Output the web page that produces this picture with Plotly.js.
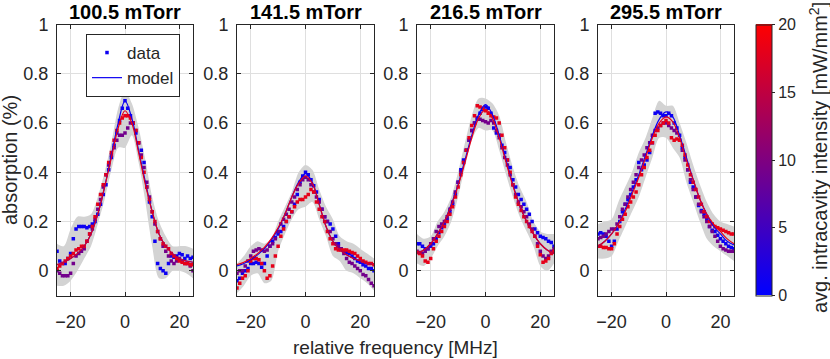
<!DOCTYPE html>
<html><head><meta charset="utf-8">
<script src="https://cdn.plot.ly/plotly-3.0.1.min.js"></script>
<style>html,body{margin:0;padding:0;background:#fff}#chart{width:830px;height:359px}</style>
</head><body><div id="chart"></div>
<script>
// ---------- data ----------
const pressures = ['100.5 mTorr', '141.5 mTorr', '216.5 mTorr', '295.5 mTorr'];
const freq = [-25,-24,-23,-22,-21,-20,-19,-18,-17,-16,-15,-14,-13,-12,-11,-10,-9,-8,-7,-6,-5,-4,-3,-2,-1,
  0,1,2,3,4,5,6,7,8,9,10,11,12,13,14,15,16,17,18,19,20,21,22,23,24,25];
const modelFreq = [-25,-22.5,-20,-17.5,-15,-12.5,-10,-7.5,-5,-2.5,0,2.5,5,7.5,10,12.5,15,17.5,20,22.5,25];
const dataIntensity = [1, 9, 18];     // mW/mm^2 : blue, purple, red series
const modelIntensity = [1, 18];
const yTicks = [0, 0.2, 0.4, 0.6, 0.8, 1];
const xTicks = [-20, 0, 20];

// panel 1 : 100.5 mTorr
const p1Blue = [0.08,0.04,0.03,0.03,0.05, 0.07,0.13,0.17,0.18,0.18, 0.18,0.175,0.18,0.19,0.2, 0.23,0.27,0.31,0.35,0.41, 0.46,0.51,0.56,0.61,0.66,
  0.69,
  0.66,0.63,0.6,0.56,0.52, 0.49,0.44,0.34,0.28,0.22, 0.12,0.03,0.01,0.0,-0.01, 0.03,0.06,0.055,0.06,0.07, 0.065,0.05,0.06,0.05,0.055];
const p1Purple = [0.0,-0.01,-0.02,-0.02,-0.02, -0.01,0.03,0.06,0.07,0.08, 0.09,0.12,0.15,0.17,0.21, 0.25,0.29,0.34,0.39,0.43, 0.47,0.5,0.53,0.55,0.55,
  0.56,
  0.58,0.6,0.6,0.57,0.52, 0.47,0.42,0.36,0.3,0.24, 0.19,0.16,0.13,0.1,0.08, 0.06,0.04,0.03,0.04,0.05, 0.04,0.03,0.03,0.02,0.0];
const p1Red = [0.01,0.02,0.03,0.04,0.05, 0.06,0.07,0.085,0.09,0.1, 0.1,0.12,0.15,0.18,0.22, 0.27,0.31,0.35,0.39,0.44, 0.48,0.53,0.57,0.6,0.62,
  0.63,
  0.63,0.62,0.6,0.57,0.52, 0.46,0.4,0.34,0.29,0.24, 0.2,0.16,0.13,0.11,0.1, 0.09,0.07,0.06,0.05,0.04, 0.035,0.03,0.03,0.025,0.025];
const p1ModelBlue = [0.025,0.035,0.05,0.07,0.1,0.15,0.23,0.34,0.47,0.6,0.69,0.62,0.49,0.36,0.24,0.15,0.1,0.07,0.05,0.04,0.035];
const p1ModelRed  = [0.025,0.035,0.05,0.07,0.1,0.15,0.23,0.34,0.46,0.58,0.65,0.6,0.48,0.35,0.24,0.15,0.1,0.07,0.05,0.04,0.035];
const p1BandLow  = [-0.06,-0.06,-0.04,0.0,0.05,0.1,0.19,0.29,0.41,0.5,0.5,0.55,0.44,0.28,0.1,-0.03,-0.03,0.0,0.0,-0.01,-0.03];
const p1BandHigh = [0.11,0.1,0.17,0.22,0.22,0.23,0.3,0.4,0.52,0.66,0.73,0.68,0.58,0.45,0.3,0.2,0.14,0.1,0.1,0.1,0.09];

// panel 2 : 141.5 mTorr
const p2Blue = [-0.04,-0.03,-0.01,0.0,0.01, 0.03,0.03,0.035,0.03,0.015, 0.03,0.06,0.1,0.12,0.135, 0.15,0.16,0.18,0.2,0.22, 0.24,0.27,0.31,0.36,0.385,
  0.4,
  0.39,0.37,0.345,0.32,0.29, 0.25,0.22,0.2,0.19,0.17, 0.14,0.11,0.09,0.08,0.075, 0.07,0.06,0.05,0.04,0.035, 0.025,0.02,0.01,0.01,0.0];
const p2Purple = [-0.01,0.0,0.0,0.02,0.04, 0.06,0.08,0.085,0.09,0.085, 0.08,0.085,0.1,0.11,0.13, 0.16,0.19,0.21,0.23,0.25, 0.28,0.3,0.33,0.35,0.37,
  0.38,
  0.37,0.35,0.32,0.3,0.28, 0.25,0.22,0.2,0.16,0.13, 0.11,0.1,0.09,0.07,0.05, 0.035,0.03,0.02,0.01,0.0, -0.015,-0.02,-0.035,-0.05,-0.06];
const p2Red = [-0.07,-0.05,-0.03,-0.02,0.0, 0.04,0.05,0.05,0.045,0.03, 0.0,-0.03,-0.02,0.02,0.06, 0.1,0.14,0.17,0.2,0.22, 0.24,0.26,0.28,0.29,0.29,
  0.3,
  0.31,0.33,0.32,0.28,0.25, 0.22,0.2,0.16,0.13,0.11, 0.09,0.085,0.085,0.085,0.085, 0.08,0.075,0.07,0.06,0.05, 0.04,0.035,0.03,0.03,0.025];
const p2ModelBlue = [0.02,0.03,0.045,0.065,0.09,0.125,0.17,0.23,0.3,0.36,0.395,0.36,0.27,0.18,0.12,0.085,0.065,0.05,0.04,0.03,0.025];
const p2ModelRed  = [0.025,0.035,0.05,0.07,0.095,0.13,0.175,0.23,0.3,0.355,0.385,0.355,0.27,0.18,0.12,0.085,0.065,0.05,0.04,0.03,0.025];
const p2BandLow  = [-0.09,-0.06,-0.02,-0.01,-0.05,-0.04,0.08,0.15,0.21,0.25,0.26,0.28,0.21,0.14,0.06,0.04,0.0,-0.01,-0.03,-0.05,-0.08];
const p2BandHigh = [0.03,0.06,0.1,0.12,0.11,0.13,0.2,0.26,0.32,0.4,0.43,0.41,0.33,0.26,0.21,0.14,0.12,0.11,0.09,0.07,0.05];

// panel 3 : 216.5 mTorr
const p3Blue = [0.11,0.11,0.1,0.09,0.09, 0.1,0.11,0.13,0.155,0.175, 0.19,0.21,0.24,0.27,0.31, 0.36,0.41,0.45,0.49,0.53, 0.57,0.6,0.62,0.64,0.655,
  0.665,
  0.66,0.64,0.58,0.56,0.55, 0.51,0.48,0.45,0.42,0.37, 0.34,0.31,0.29,0.27,0.25, 0.23,0.2,0.17,0.155,0.14, 0.135,0.13,0.12,0.115,0.1];
const p3Purple = [0.08,0.075,0.07,0.08,0.09, 0.11,0.13,0.16,0.18,0.19, 0.2,0.22,0.25,0.28,0.32, 0.36,0.4,0.44,0.49,0.53, 0.57,0.6,0.615,0.615,0.61,
  0.605,
  0.6,0.61,0.6,0.57,0.54, 0.5,0.46,0.43,0.39,0.35, 0.31,0.28,0.26,0.24,0.22, 0.19,0.17,0.14,0.11,0.08, 0.06,0.05,0.06,0.08,0.09];
const p3Red = [0.075,0.07,0.06,0.04,0.035, 0.05,0.09,0.12,0.14,0.16, 0.18,0.2,0.23,0.26,0.3, 0.34,0.39,0.44,0.49,0.54, 0.59,0.63,0.67,0.665,0.66,
  0.65,
  0.64,0.63,0.625,0.62,0.6, 0.55,0.5,0.45,0.4,0.35, 0.3,0.27,0.245,0.22,0.2, 0.18,0.16,0.14,0.1,0.065, 0.035,0.04,0.05,0.07,0.08];
const p3ModelBlue = [0.07,0.085,0.11,0.15,0.2,0.27,0.35,0.45,0.55,0.635,0.675,0.635,0.55,0.45,0.35,0.265,0.2,0.15,0.11,0.085,0.07];
const p3ModelRed  = [0.07,0.085,0.11,0.15,0.2,0.265,0.345,0.44,0.54,0.62,0.655,0.62,0.54,0.44,0.345,0.265,0.2,0.15,0.11,0.085,0.07];
const p3BandLow  = [0.03,0.02,0.05,0.1,0.14,0.2,0.3,0.42,0.53,0.58,0.57,0.57,0.49,0.39,0.3,0.22,0.16,0.1,0.02,0.0,0.03];
const p3BandHigh = [0.15,0.13,0.14,0.2,0.24,0.3,0.4,0.52,0.63,0.7,0.7,0.68,0.63,0.52,0.42,0.34,0.28,0.2,0.16,0.15,0.15];

// panel 4 : 295.5 mTorr
const p4Blue = [0.15,0.155,0.15,0.14,0.12, 0.1,0.12,0.17,0.2,0.24, 0.27,0.29,0.31,0.34,0.37, 0.44,0.41,0.43,0.45,0.48, 0.52,0.64,0.645,0.64,0.63,
  0.63,
  0.64,0.63,0.6,0.58,0.55, 0.5,0.46,0.41,0.36,0.34, 0.3,0.265,0.245,0.23,0.21, 0.18,0.165,0.16,0.145,0.13, 0.12,0.11,0.1,0.095,0.09];
const p4Purple = [0.13,0.135,0.14,0.15,0.16, 0.17,0.17,0.19,0.22,0.25, 0.27,0.3,0.33,0.36,0.39, 0.42,0.45,0.47,0.5,0.52, 0.55,0.57,0.58,0.59,0.6,
  0.6,
  0.59,0.58,0.57,0.56,0.53, 0.49,0.45,0.41,0.37,0.33, 0.3,0.27,0.24,0.22,0.2, 0.18,0.16,0.14,0.12,0.1, 0.09,0.085,0.08,0.08,0.08];
const p4Red = [0.1,0.1,0.095,0.095,0.09, 0.09,0.11,0.15,0.18,0.21, 0.23,0.26,0.28,0.3,0.32, 0.35,0.39,0.42,0.46,0.49, 0.52,0.55,0.57,0.59,0.6,
  0.61,
  0.6,0.54,0.53,0.535,0.53, 0.51,0.47,0.43,0.39,0.36, 0.33,0.3,0.27,0.24,0.22, 0.2,0.19,0.18,0.175,0.17, 0.165,0.16,0.155,0.15,0.15];
const p4ModelBlue = [0.1,0.12,0.15,0.19,0.25,0.32,0.39,0.47,0.55,0.615,0.645,0.625,0.55,0.46,0.37,0.29,0.23,0.18,0.15,0.12,0.105];
const p4ModelRed  = [0.1,0.12,0.15,0.19,0.24,0.31,0.38,0.46,0.54,0.6,0.625,0.605,0.54,0.45,0.37,0.29,0.23,0.19,0.16,0.13,0.11];
const p4BandLow  = [0.05,0.05,0.06,0.12,0.18,0.24,0.3,0.38,0.46,0.54,0.54,0.5,0.46,0.36,0.28,0.2,0.13,0.1,0.08,0.06,0.04];
const p4BandHigh = [0.19,0.2,0.21,0.28,0.34,0.4,0.48,0.54,0.62,0.69,0.67,0.67,0.6,0.52,0.43,0.35,0.28,0.23,0.2,0.19,0.18];

const panels = [
  {data: [p1Blue, p1Purple, p1Red], model: [p1ModelBlue, p1ModelRed], lo: p1BandLow, hi: p1BandHigh},
  {data: [p2Blue, p2Purple, p2Red], model: [p2ModelBlue, p2ModelRed], lo: p2BandLow, hi: p2BandHigh},
  {data: [p3Blue, p3Purple, p3Red], model: [p3ModelBlue, p3ModelRed], lo: p3BandLow, hi: p3BandHigh},
  {data: [p4Blue, p4Purple, p4Red], model: [p4ModelBlue, p4ModelRed], lo: p4BandLow, hi: p4BandHigh}
];

// ---------- style ----------
const W = 830, H = 359;
const FONT = 'Liberation Sans, Arial, Helvetica, sans-serif';
const INK = '#262626';
const cmin = 0, cmax = 20;
const colorscale = [[0, 'rgb(0,0,255)'], [1, 'rgb(255,0,0)']];
function intensityColor(v) {
  const t = (v - cmin) / (cmax - cmin);
  return 'rgb(' + Math.round(255 * t) + ',0,' + Math.round(255 * (1 - t)) + ')';
}
const xPix = [[57, 193], [237, 374], [417, 554], [598, 734]];
const yTopPix = 24.5, yBotPix = 295.5;

const traces = [];
const layout = {
  width: W, height: H,
  margin: {l: 0, r: 0, t: 0, b: 0, autoexpand: false},
  paper_bgcolor: '#fff', plot_bgcolor: '#fff',
  font: {family: FONT, size: 18, color: INK},
  showlegend: true,
  legend: {
    x: 86 / W, y: 1 - 34 / H, xanchor: 'left', yanchor: 'top',
    bgcolor: '#fff', bordercolor: INK, borderwidth: 1, traceorder: 'normal',
    font: {family: FONT, size: 17, color: INK},
    tracegroupgap: 0, itemwidth: 30
  },
  annotations: [],
  hovermode: false
};

panels.forEach((p, i) => {
  const n = i === 0 ? '' : String(i + 1);
  const xa = 'x' + n, ya = 'y' + n;
  // uncertainty band
  traces.push({x: modelFreq, y: p.lo, xaxis: xa, yaxis: ya, mode: 'lines',
    line: {width: 0, shape: 'spline', smoothing: 0.8}, showlegend: false, hoverinfo: 'skip'});
  traces.push({x: modelFreq, y: p.hi, xaxis: xa, yaxis: ya, mode: 'lines', fill: 'tonexty',
    fillcolor: 'rgb(211,211,211)', line: {width: 0, shape: 'spline', smoothing: 0.8}, showlegend: false, hoverinfo: 'skip'});
  // data dots
  p.data.forEach((series, k) => {
    traces.push({x: freq, y: series, xaxis: xa, yaxis: ya, mode: 'markers', name: 'data',
      marker: {size: 3.5, symbol: 'square', color: intensityColor(dataIntensity[k]), line: {width: 0}},
      showlegend: i === 0 && k === 0});
  });
  // model lines
  p.model.forEach((series, k) => {
    traces.push({x: modelFreq, y: series, xaxis: xa, yaxis: ya, mode: 'lines', name: 'model',
      line: {width: 1.2, color: intensityColor(modelIntensity[k]), shape: 'spline', smoothing: 1},
      showlegend: i === 0 && k === 0});
  });

  layout['xaxis' + n] = {
    domain: [xPix[i][0] / W, xPix[i][1] / W], anchor: ya, range: [-25, 25],
    tickvals: xTicks, ticks: 'inside', ticklen: 4, tickcolor: INK, mirror: 'ticks',
    showline: true, linecolor: INK, linewidth: 1, showgrid: true, gridcolor: '#dfdfdf',
    zeroline: false, tickfont: {size: 18}, ticklabelstandoff: 10, fixedrange: true
  };
  layout['yaxis' + n] = {
    domain: [1 - yBotPix / H, 1 - yTopPix / H], anchor: xa, range: [-0.1, 1],
    tickvals: yTicks, ticks: 'inside', ticklen: 4, tickcolor: INK, mirror: 'ticks',
    showline: true, linecolor: INK, linewidth: 1, showgrid: true, gridcolor: '#dfdfdf',
    zeroline: false, tickfont: {size: 18}, ticklabelstandoff: 4, fixedrange: true
  };
  layout.annotations.push({text: '<b>' + pressures[i] + '</b>', xref: 'paper', yref: 'paper',
    x: (xPix[i][0] + xPix[i][1]) / 2 / W, y: 1 - 12 / H, xanchor: 'center', yanchor: 'middle',
    showarrow: false, font: {size: 20, color: '#000'}});
});

// colorbar carrier (points lie outside the visible range)
traces.push({x: [-100, -100], y: [0, 0], xaxis: 'x4', yaxis: 'y4', mode: 'markers', showlegend: false,
  hoverinfo: 'skip',
  marker: {size: 1, color: [cmin, cmax], cmin: cmin, cmax: cmax, colorscale: colorscale, showscale: true,
    colorbar: {x: 756 / W, xanchor: 'left', y: 1 - 160 / H, yanchor: 'middle', len: (yBotPix - yTopPix) / H,
      lenmode: 'fraction', thickness: 16, thicknessmode: 'pixels', xpad: 0, ypad: 0,
      outlinewidth: 1, outlinecolor: INK, ticks: 'outside', ticklen: 3, tickcolor: INK,
      tickvals: [0, 5, 10, 15, 20], tickfont: {size: 16, color: INK}}}});

layout.annotations.push({text: 'absorption (%)', xref: 'paper', yref: 'paper', x: 10 / W, y: 1 - 160 / H,
  xanchor: 'center', yanchor: 'middle', textangle: -90, showarrow: false, font: {size: 20}});
layout.annotations.push({text: 'relative frequency [MHz]', xref: 'paper', yref: 'paper', x: 395 / W, y: 1 - 347 / H,
  xanchor: 'center', yanchor: 'middle', showarrow: false, font: {size: 19}});
layout.annotations.push({text: 'avg. intracavity intensity [mW/mm<sup>2</sup>]', xref: 'paper', yref: 'paper',
  x: 818 / W, y: 1 - 158 / H, xanchor: 'center', yanchor: 'middle', textangle: -90, showarrow: false, font: {size: 20}});

Plotly.newPlot('chart', traces, layout, {staticPlot: true, displayModeBar: false});
</script></body></html>
